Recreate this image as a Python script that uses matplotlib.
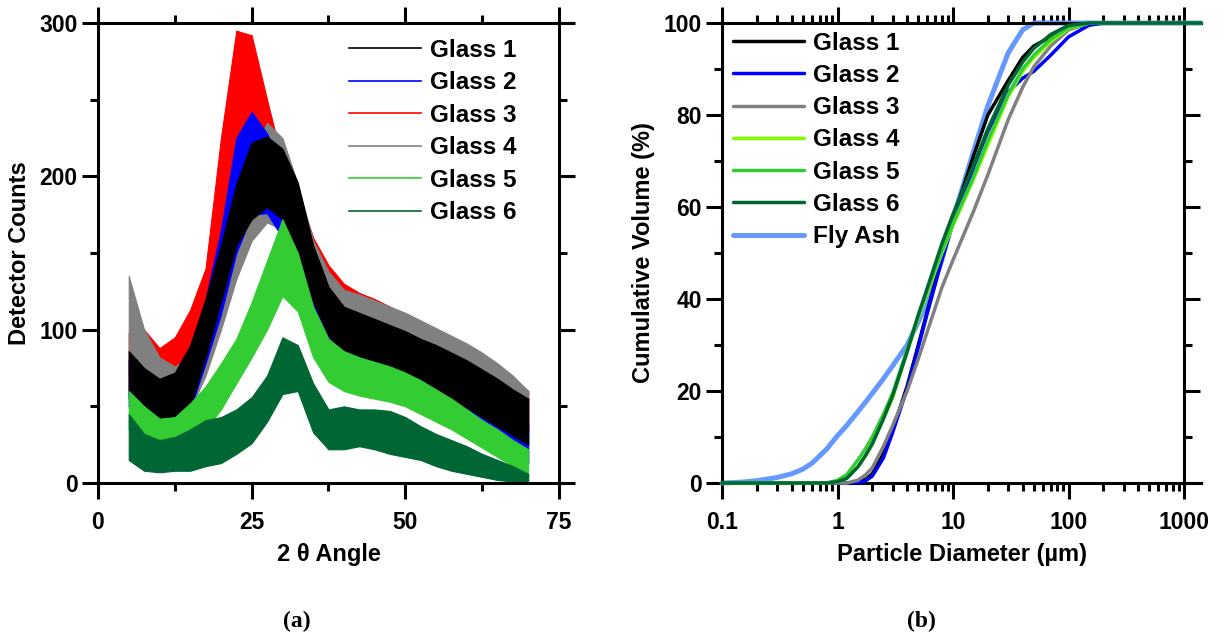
import matplotlib
matplotlib.use("Agg")
import matplotlib.pyplot as plt
from matplotlib.ticker import MultipleLocator, LogLocator, NullFormatter
from matplotlib.lines import Line2D

plt.rcParams['font.family'] = ['Liberation Sans', 'DejaVu Sans']
plt.rcParams['font.weight'] = 'bold'
plt.rcParams['axes.labelweight'] = 'bold'

# ---- XRD scans: low / high edge of the noisy counts, every 2.5 deg ----
angle = [5, 7.5, 10, 12.5, 15, 17.5, 20, 22.5, 25, 27.5, 30, 32.5, 35, 37.5,
         40, 42.5, 45, 47.5, 50, 52.5, 55, 57.5, 60, 62.5, 65, 67.5, 70]

g1_hi = [86, 75, 68, 72, 90, 120, 155, 195, 222, 226, 218, 196, 155, 128,
         115, 111, 107, 103, 99, 94, 90, 85, 80, 74, 68, 61, 55]
g1_lo = [55, 38, 36, 40, 50, 82, 118, 155, 172, 180, 172, 150, 118, 96,
         84, 78, 74, 71, 67, 63, 59, 54, 49, 43, 37, 31, 25]
g2_hi = [80, 70, 62, 66, 88, 120, 165, 225, 242, 228, 205, 180, 148, 122,
         106, 100, 95, 90, 86, 81, 76, 71, 65, 58, 51, 44, 38]
g2_lo = [50, 36, 32, 35, 48, 78, 110, 150, 175, 176, 160, 138, 108, 86,
         72, 66, 62, 57, 53, 49, 45, 40, 35, 29, 24, 18, 13]
g3_hi = [98, 100, 88, 95, 113, 140, 225, 295, 292, 250, 210, 190, 160, 142,
         130, 124, 120, 115, 110, 104, 98, 93, 88, 82, 76, 68, 60]
g3_lo = [60, 58, 56, 60, 75, 100, 140, 200, 205, 195, 170, 145, 118, 100,
         90, 86, 82, 78, 74, 70, 66, 62, 57, 51, 46, 40, 34]
g4_hi = [135, 100, 82, 76, 82, 110, 145, 180, 215, 235, 225, 195, 158, 138,
         126, 123, 119, 115, 111, 106, 101, 96, 91, 85, 78, 70, 60]
g4_lo = [70, 58, 48, 45, 48, 70, 100, 133, 158, 170, 165, 143, 117, 102,
         92, 88, 84, 80, 77, 73, 69, 65, 60, 55, 49, 43, 36]
g5_hi = [60, 50, 42, 43, 52, 63, 78, 94, 118, 145, 172, 150, 115, 94,
         86, 82, 79, 76, 72, 67, 61, 55, 48, 41, 35, 28, 22]
g5_lo = [35, 28, 26, 26, 28, 35, 48, 65, 82, 100, 122, 112, 82, 66,
         60, 57, 55, 53, 50, 45, 40, 35, 29, 23, 17, 11, 5]
g6_hi = [45, 32, 28, 30, 35, 41, 43, 48, 56, 70, 95, 90, 65, 48,
         50, 48, 48, 47, 43, 37, 32, 28, 24, 19, 15, 11, 6]
g6_lo = [15, 8, 7, 8, 8, 11, 13, 19, 26, 40, 58, 60, 33, 22,
         22, 24, 22, 19, 17, 15, 11, 8, 6, 4, 2, 1, 0]

xrd_names = ['Glass 1', 'Glass 2', 'Glass 3', 'Glass 4', 'Glass 5', 'Glass 6']
xrd_colors = ['#000000', '#0000ff', '#ff0000', '#808080', '#33cc33', '#006633']

# ---- particle size distributions (cumulative volume %) ----
diam = [0.1, 0.15, 0.2, 0.3, 0.4, 0.5, 0.6, 0.8, 1, 1.2, 1.5, 1.75, 2, 2.5,
        3, 4, 5, 6, 8, 10, 15, 20, 30, 40, 50, 70, 100, 150, 200, 500,
        1000, 1400]

psd_g1 = [0, 0, 0, 0, 0, 0, 0, 0, 0, 0, 0.2, 0.8, 2, 6.5,
          11.5, 21, 30, 37.5, 49, 57.5, 71, 80, 87.5, 92.5, 95, 97, 98.8,
          99.8, 100, 100, 100, 100]
psd_g2 = [0, 0, 0, 0, 0, 0, 0, 0, 0, 0, 0.1, 0.5, 1.5, 5.5,
          11, 20.5, 29.5, 37, 48.5, 56.5, 68.5, 76.5, 85, 88, 89.5, 93, 97,
          99.5, 100, 100, 100, 100]
psd_g3 = [0, 0, 0, 0, 0, 0, 0, 0, 0, 0, 0.6, 1.8, 3.3, 8,
          12.5, 20, 27, 33, 42.5, 48.5, 59, 67, 79, 86, 90.5, 95, 98.5,
          100, 100, 100, 100, 100]
psd_g4 = [0, 0, 0, 0, 0, 0, 0, 0, 0.3, 1, 3.5, 6, 8.5, 14,
          18.5, 28.5, 36, 41.5, 50, 56, 66, 73.5, 84, 89.5, 92.5, 96, 98.8,
          100, 100, 100, 100, 100]
psd_g5 = [0, 0, 0, 0, 0, 0, 0, 0, 0.6, 1.8, 5, 7.5, 10, 15,
          19.5, 29, 36.5, 42, 50.5, 56.5, 66.5, 74.5, 84.5, 90, 93, 96.5, 99,
          100, 100, 100, 100, 100]
psd_g6 = [0, 0, 0, 0, 0, 0, 0, 0, 0.3, 1, 3.5, 6, 8.5, 14,
          19, 28.5, 36.5, 42.5, 52, 58.5, 69, 77, 86.5, 91.5, 94.5, 97.5, 99.5,
          100, 100, 100, 100, 100]
psd_fa = [0, 0.2, 0.5, 1.2, 2, 3, 4.3, 7.3, 10.3, 12.5, 15.5, 17.6, 19.5, 22.7,
          25.5, 30, 35, 39.5, 48.5, 57.5, 72, 82, 93.5, 98.5, 100, 100, 100,
          100, 100, 100, 100, 100]

psd_names = ['Glass 1', 'Glass 2', 'Glass 3', 'Glass 4', 'Glass 5', 'Glass 6',
             'Fly Ash']
psd_colors = ['#000000', '#0000ff', '#808080', '#80ff00', '#33cc33', '#006633',
              '#6699ff']
psd_ticks = [0.1, 1, 10, 100, 1000]
psd_ticklabels = ['0.1', '1', '10', '100', '1000']

FS_TICK = 16.5
FS_LABEL = 17
FS_LEG = 17.5

fig = plt.figure(figsize=(12.25, 6.39), dpi=100)
ax1 = fig.add_axes([0.080, 0.2441, 0.3763, 0.7199])
ax2 = fig.add_axes([0.5894, 0.2441, 0.3910, 0.7199])


def style_axes(ax):
    for s in ax.spines.values():
        s.set_linewidth(2.2)
    ax.tick_params(which='both', direction='out', width=2.2,
                   top=True, right=True, labelsize=FS_TICK)
    ax.tick_params(axis='x', which='both', pad=9)
    ax.tick_params(axis='y', which='both', pad=3)
    ax.tick_params(which='major', length=11.5)
    ax.tick_params(which='minor', length=6)


# (a) XRD
lows = [g1_lo, g2_lo, g3_lo, g4_lo, g5_lo, g6_lo]
highs = [g1_hi, g2_hi, g3_hi, g4_hi, g5_hi, g6_hi]
draw_order = [2, 3, 1, 0, 4, 5]
for i in draw_order:
    ax1.fill_between(angle, lows[i], highs[i], color=xrd_colors[i],
                     linewidth=0.8, edgecolor=xrd_colors[i])

ax1.set_xlim(0, 75)
ax1.set_ylim(0, 300)
ax1.xaxis.set_major_locator(MultipleLocator(25))
ax1.xaxis.set_minor_locator(MultipleLocator(12.5))
ax1.yaxis.set_major_locator(MultipleLocator(100))
ax1.yaxis.set_minor_locator(MultipleLocator(50))
style_axes(ax1)
ax1.set_xlabel('2 θ Angle', fontsize=FS_LABEL, labelpad=6)
ax1.set_ylabel('Detector Counts', fontsize=FS_LABEL, labelpad=6)

handles = [Line2D([], [], color=c, lw=1.2) for c in xrd_colors]
ax1.legend(handles, xrd_names, loc='upper left', bbox_to_anchor=(0.545, 0.966),
           frameon=False, fontsize=FS_LEG, handlelength=2.95, handletextpad=0.38,
           labelspacing=0.39, borderpad=0, borderaxespad=0)

# (b) particle size
series = [psd_g1, psd_g2, psd_g3, psd_g4, psd_g5, psd_g6, psd_fa]
for vals, name, c in zip(series, psd_names, psd_colors):
    fly = name == 'Fly Ash'
    ax2.plot(diam, vals, color=c, lw=3.6 if fly else 2.5, label=name,
             zorder=2 if fly else 3, solid_capstyle='round', clip_on=False)

ax2.set_xscale('log')
ax2.set_xlim(0.1, 1400)
ax2.set_ylim(0, 100)
ax2.spines['right'].set_position(('data', 1000))
ax2.set_xticks(psd_ticks, labels=psd_ticklabels)
ax2.xaxis.set_minor_locator(LogLocator(base=10, subs=range(2, 10), numticks=20))
ax2.xaxis.set_minor_formatter(NullFormatter())
ax2.yaxis.set_major_locator(MultipleLocator(20))
ax2.yaxis.set_minor_locator(MultipleLocator(10))
style_axes(ax2)
ax2.set_xlabel('Particle Diameter (µm)', fontsize=FS_LABEL, labelpad=6)
ax2.set_ylabel('Cumulative Volume (%)', fontsize=FS_LABEL, labelpad=6)

h2, l2 = ax2.get_legend_handles_labels()
ax2.legend(h2, l2, loc='upper left', bbox_to_anchor=(0.022, 0.981),
           frameon=False, fontsize=FS_LEG, handlelength=2.95, handletextpad=0.38,
           labelspacing=0.38, borderpad=0, borderaxespad=0)

fig.text(0.2424, 0.018, '(a)', fontsize=17, fontweight='bold',
         family=['Liberation Serif'], ha='center')
fig.text(0.7518, 0.018, '(b)', fontsize=17, fontweight='bold',
         family=['Liberation Serif'], ha='center')

fig.savefig('out.png', dpi=100)
